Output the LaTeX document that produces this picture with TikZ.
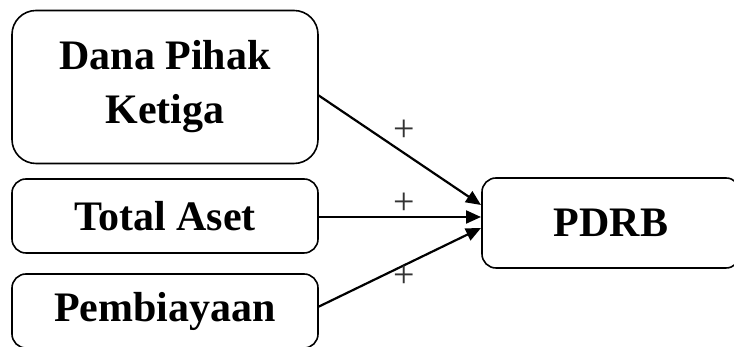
\documentclass[tikz,border=0pt]{standalone}
\usepackage{fontspec}
\setmainfont{Liberation Serif}
\usetikzlibrary{arrows.meta}
\tikzset{
  box/.style={draw=black, line width=1.6pt, fill=white, align=center,
    font=\fontsize{42}{54}\selectfont\bfseries, inner sep=0pt, anchor=center},
  arr/.style={line width=2.2pt, -{Triangle[length=15pt,width=13pt]}},
  plus/.style={font=\fontsize{38}{38}\selectfont, text=black!80, inner sep=0pt}
}
\begin{document}
\begin{tikzpicture}[x=1pt,y=1pt]
\useasboundingbox (0,0) rectangle (734,347);
\clip (0,0) rectangle (734,347);
\node[box, rounded corners=24pt, minimum width=306pt, minimum height=153pt] (dpk) at (165,260) {Dana Pihak\\Ketiga};
\node[box, rounded corners=14pt, minimum width=306pt, minimum height=74pt] (ta) at (165,131) {Total Aset};
\node[box, rounded corners=14pt, minimum width=306pt, minimum height=74pt] (pb) at (165,36) {Pembiayaan};
\node[box, rounded corners=14pt, minimum width=258pt, minimum height=90pt] (pdrb) at (611,124) {PDRB};
\coordinate (d1) at (318,252);
\coordinate (d2) at (481,142);
\coordinate (t1) at (318,130);
\coordinate (t2) at (481,130);
\coordinate (p1) at (318,40);
\coordinate (p2) at (481,119);
\draw[arr] (d1) -- (d2);
\draw[arr] (t1) -- (t2);
\draw[arr] (p1) -- (p2);
\node[plus] (s1) at (404,216) {+};
\node[plus] (s2) at (404,143) {+};
\node[plus] (s3) at (404,70) {+};
\end{tikzpicture}
\end{document}
